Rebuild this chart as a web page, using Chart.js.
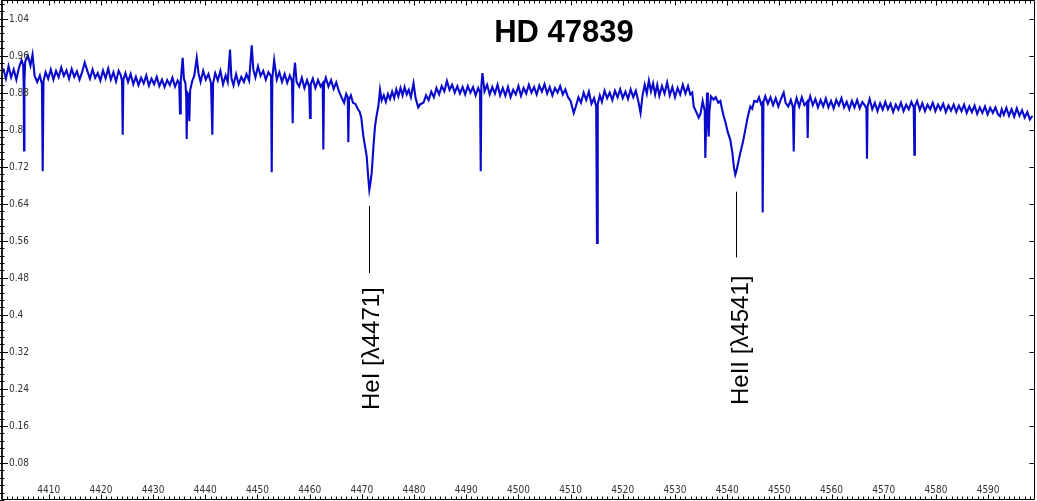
<!DOCTYPE html>
<html><head><meta charset="utf-8">
<script src="https://cdn.jsdelivr.net/npm/chart.js@4.4.1/dist/chart.umd.min.js"></script>
<style>html,body{margin:0;padding:0;background:#fff;overflow:hidden}#wrap{width:1037px;height:501px}</style>
</head><body><div id="wrap"><canvas id="c" width="1037" height="501"></canvas></div>
<script>
const titleText = 'HD 47839';
const xTicks = [4410,4420,4430,4440,4450,4460,4470,4480,4490,4500,4510,4520,4530,4540,4550,4560,4570,4580,4590];
const yTicks = [0.08,0.16,0.24,0.32,0.4,0.48,0.56,0.64,0.72,0.8,0.88,0.96,1.04];
const xRange = [4401.24, 4598.6];
const yRange = [0, 1.08];
const xMinorStep = 1;
const yMinorStep = 0.016;

const lineLabels = ['HeI [\u03BB4471]', 'HeII [\u03BB4541]'];
const lineWavelengths = [4471.4, 4541.6];
const lineMarkTop = [0.635, 0.666];
const lineMarkBottom = [0.490, 0.524];
const lineLabelCenter = [0.327, 0.345];
const lineLabelWavelength = [4473.3, 4543.9];

const wavelength = [
4401.3,4401.8,4402.3,4402.8,4403.3,4403.8,4404.3,4404.8,4405.1,4405.2,
4405.27,4405.35,4405.5,4406.0,4406.5,4406.9,4407.3,4407.8,4408.3,4408.7,
4408.85,4409.0,4409.4,4409.9,4410.4,4410.9,4411.4,4411.9,4412.4,4412.9,
4413.4,4413.9,4414.4,4414.9,4415.4,4415.9,4416.4,4416.9,4417.4,4417.9,
4418.4,4418.9,4419.4,4419.9,4420.4,4420.9,4421.4,4421.9,4422.4,4422.9,
4423.4,4423.8,4424.05,4424.18,4424.3,4424.7,4425.2,4425.7,4426.2,4426.7,
4427.2,4427.7,4428.2,4428.7,4429.2,4429.7,4430.2,4430.7,4431.2,4431.7,
4432.2,4432.7,4433.2,4433.7,4434.2,4434.7,4435.0,4435.16,4435.3,4435.67,
4435.9,4436.2,4436.35,4436.44,4436.55,4436.8,4436.94,4437.1,4437.5,4437.9,
4438.36,4438.7,4439.1,4439.6,4440.1,4440.6,4441.1,4441.35,4441.5,4441.9,
4442.4,4442.9,4443.4,4443.9,4444.3,4444.74,4445.0,4445.4,4445.9,4446.4,
4446.9,4447.4,4447.9,4448.4,4448.9,4449.2,4449.6,4450.1,4450.6,4451.1,
4451.6,4452.1,4452.6,4452.73,4452.85,4453.2,4453.7,4454.2,4454.7,4455.2,
4455.7,4456.2,4456.6,4456.75,4456.9,4457.19,4457.5,4458.0,4458.5,4459.0,
4459.5,4459.9,4460.07,4460.2,4460.6,4461.1,4461.6,4462.1,4462.5,4462.62,
4462.75,4463.1,4463.6,4464.1,4464.6,4465.1,4465.6,4466.1,4466.6,4467.0,
4467.3,4467.41,4467.55,4467.9,4468.3,4468.8,4469.2,4469.6,4469.9,4470.28,
4470.6,4470.93,4471.2,4471.43,4471.65,4471.89,4472.2,4472.52,4472.85,4473.16,
4473.48,4473.8,4474.2,4474.6,4475.0,4475.4,4475.8,4476.2,4476.6,4477.0,
4477.4,4477.8,4478.2,4478.6,4479.0,4479.4,4479.9,4480.3,4480.8,4481.2,
4481.8,4482.3,4482.8,4483.3,4483.8,4484.3,4484.8,4485.3,4485.8,4486.3,
4486.8,4487.3,4487.8,4488.3,4488.8,4489.3,4489.8,4490.3,4490.8,4491.3,
4491.8,4492.3,4492.65,4492.78,4492.9,4493.1,4493.5,4494.0,4494.5,4495.0,
4495.5,4496.0,4496.5,4497.0,4497.5,4498.0,4498.5,4499.0,4499.5,4500.0,
4500.5,4501.0,4501.5,4502.0,4502.5,4503.0,4503.5,4504.0,4504.5,4505.0,
4505.5,4506.0,4506.5,4507.0,4507.5,4508.0,4508.5,4509.0,4509.5,4510.0,
4510.6,4511.0,4511.5,4512.0,4512.5,4513.0,4513.5,4514.0,4514.5,4514.9,
4515.06,4515.2,4515.6,4516.0,4516.5,4517.0,4517.5,4518.0,4518.5,4519.0,
4519.5,4520.0,4520.5,4521.0,4521.5,4522.0,4522.5,4523.0,4523.4,4523.8,
4524.2,4524.6,4525.0,4525.4,4525.8,4526.2,4526.6,4527.0,4527.5,4528.0,
4528.5,4529.0,4529.5,4530.0,4530.5,4531.0,4531.5,4532.0,4532.5,4532.94,
4533.3,4533.59,4534.0,4534.55,4534.9,4535.3,4535.7,4535.81,4535.95,4536.14,
4536.3,4536.46,4536.6,4536.9,4537.4,4537.8,4538.3,4538.7,4539.0,4539.33,
4539.7,4540.1,4540.6,4541.0,4541.3,4541.56,4541.8,4542.1,4542.52,4543.0,
4543.48,4543.9,4544.43,4544.8,4545.2,4545.72,4546.1,4546.5,4546.7,4546.81,
4546.95,4547.3,4547.8,4548.3,4548.8,4549.3,4549.8,4550.3,4550.83,4551.2,
4551.7,4552.2,4552.6,4552.75,4552.9,4553.3,4553.8,4554.3,4554.8,4555.3,
4555.43,4555.56,4555.9,4556.4,4556.9,4557.4,4557.9,4558.4,4558.9,4559.4,
4559.9,4560.4,4560.9,4561.4,4561.9,4562.4,4562.9,4563.4,4563.9,4564.4,
4564.9,4565.4,4565.9,4566.4,4566.68,4566.79,4566.9,4567.3,4567.8,4568.3,
4568.8,4569.3,4569.8,4570.3,4570.8,4571.3,4571.8,4572.3,4572.8,4573.3,
4573.8,4574.3,4574.8,4575.3,4575.75,4575.86,4575.97,4576.4,4576.9,4577.4,
4577.9,4578.4,4578.9,4579.4,4579.9,4580.4,4580.9,4581.4,4581.9,4582.4,
4582.9,4583.4,4583.9,4584.4,4584.9,4585.4,4585.9,4586.4,4586.9,4587.4,
4587.9,4588.4,4588.9,4589.4,4589.9,4590.4,4590.9,4591.4,4591.9,4592.28,
4592.6,4593.0,4593.5,4594.0,4594.5,4595.0,4595.5,4596.0,4596.5,4597.0,
4597.5,4598.0,4598.5
];

const flux = [
0.932,0.910,0.937,0.913,0.930,0.908,0.934,0.950,0.940,0.900,
0.755,0.905,0.947,0.960,0.938,0.962,0.916,0.903,0.917,0.898,
0.710,0.905,0.924,0.910,0.930,0.908,0.927,0.913,0.934,0.916,
0.928,0.910,0.931,0.914,0.926,0.908,0.924,0.945,0.927,0.910,
0.930,0.912,0.922,0.906,0.928,0.911,0.932,0.908,0.924,0.904,
0.927,0.918,0.905,0.789,0.908,0.922,0.903,0.920,0.898,0.914,
0.896,0.912,0.900,0.917,0.895,0.910,0.898,0.914,0.894,0.908,
0.892,0.907,0.896,0.912,0.893,0.906,0.900,0.835,0.905,0.955,
0.910,0.900,0.870,0.780,0.880,0.875,0.818,0.885,0.905,0.917,
0.955,0.922,0.903,0.927,0.908,0.920,0.900,0.789,0.900,0.922,
0.906,0.927,0.898,0.917,0.903,0.973,0.912,0.896,0.920,0.898,
0.914,0.903,0.920,0.906,0.982,0.930,0.913,0.937,0.916,0.927,
0.908,0.924,0.915,0.708,0.912,0.950,0.908,0.924,0.903,0.920,
0.901,0.917,0.905,0.814,0.910,0.945,0.903,0.893,0.912,0.890,
0.907,0.893,0.825,0.898,0.910,0.890,0.907,0.893,0.900,0.757,
0.898,0.912,0.893,0.907,0.888,0.902,0.883,0.870,0.858,0.877,
0.870,0.773,0.865,0.874,0.858,0.855,0.845,0.838,0.825,0.786,
0.765,0.742,0.700,0.670,0.685,0.707,0.760,0.807,0.832,0.850,
0.886,0.863,0.874,0.860,0.877,0.866,0.882,0.868,0.887,0.872,
0.890,0.874,0.892,0.876,0.886,0.870,0.900,0.868,0.848,0.855,
0.858,0.874,0.864,0.882,0.870,0.890,0.876,0.894,0.883,0.905,
0.886,0.897,0.880,0.894,0.878,0.892,0.876,0.894,0.880,0.892,
0.874,0.890,0.880,0.710,0.895,0.922,0.883,0.897,0.876,0.892,
0.878,0.897,0.874,0.890,0.873,0.892,0.870,0.886,0.876,0.894,
0.873,0.890,0.878,0.897,0.880,0.892,0.876,0.895,0.882,0.898,
0.878,0.892,0.874,0.890,0.880,0.894,0.876,0.887,0.870,0.862,
0.836,0.850,0.870,0.858,0.880,0.864,0.882,0.856,0.868,0.850,
0.555,0.855,0.874,0.860,0.884,0.868,0.880,0.864,0.884,0.870,
0.887,0.868,0.882,0.866,0.887,0.870,0.884,0.860,0.836,0.875,
0.897,0.878,0.906,0.883,0.900,0.876,0.897,0.873,0.894,0.878,
0.902,0.874,0.892,0.870,0.890,0.876,0.897,0.878,0.894,0.876,
0.880,0.850,0.840,0.826,0.835,0.862,0.840,0.739,0.800,0.880,
0.820,0.785,0.840,0.872,0.865,0.870,0.858,0.862,0.845,0.829,
0.815,0.795,0.778,0.750,0.718,0.703,0.712,0.728,0.750,0.772,
0.800,0.825,0.850,0.845,0.862,0.860,0.870,0.855,0.858,0.621,
0.860,0.872,0.856,0.870,0.853,0.868,0.850,0.866,0.880,0.858,
0.850,0.864,0.848,0.753,0.850,0.868,0.850,0.870,0.853,0.860,
0.782,0.858,0.872,0.853,0.866,0.848,0.864,0.850,0.867,0.848,
0.862,0.846,0.864,0.852,0.868,0.848,0.860,0.844,0.862,0.848,
0.864,0.846,0.860,0.852,0.845,0.737,0.850,0.866,0.844,0.858,
0.840,0.857,0.843,0.860,0.844,0.856,0.838,0.854,0.843,0.858,
0.840,0.854,0.844,0.860,0.848,0.746,0.850,0.862,0.843,0.857,
0.840,0.854,0.844,0.858,0.840,0.854,0.843,0.856,0.838,0.852,
0.841,0.854,0.838,0.852,0.840,0.854,0.836,0.850,0.838,0.852,
0.834,0.848,0.836,0.850,0.833,0.847,0.836,0.848,0.833,0.829,
0.844,0.832,0.847,0.830,0.844,0.828,0.846,0.830,0.842,0.826,
0.838,0.822,0.830
];

const tickFont = '10px "DejaVu Sans Condensed", "DejaVu Sans", sans-serif';
const tickColor = '#333';

const framePlugin = {
  id: 'frame',
  afterDraw(chart) {
    const {ctx, chartArea: a, scales: {x, y}} = chart;
    ctx.save();
    ctx.strokeStyle = '#000';
    ctx.lineWidth = 1;
    const L = a.left - 1, R = a.right + 1.5, T = 0.5, B = a.bottom - 0.5;
    ctx.beginPath();
    ctx.moveTo(L, T); ctx.lineTo(R, T); ctx.lineTo(R, B); ctx.lineTo(L, B); ctx.closePath();
    ctx.stroke();
    ctx.lineWidth = 1.5;
    ctx.beginPath(); ctx.moveTo(L, 0); ctx.lineTo(L, B); ctx.stroke();
    ctx.lineWidth = 1;
    ctx.beginPath();
    for (let v = yRange[0]; v <= yRange[1] + 1e-9; v += yMinorStep) {
      const py = Math.round(y.getPixelForValue(v)) + 0.5;
      ctx.moveTo(0, py); ctx.lineTo(L + 2.5, py);
    }
    yTicks.forEach(v => {
      const py = Math.round(y.getPixelForValue(v)) + 0.5;
      ctx.moveTo(0, py); ctx.lineTo(L + 6, py);
      ctx.moveTo(R, py); ctx.lineTo(R - 5, py);
    });
    for (let v = Math.ceil(xRange[0]); v <= xRange[1]; v += xMinorStep) {
      const px = Math.round(x.getPixelForValue(v)) + 0.5;
      ctx.moveTo(px, B); ctx.lineTo(px, B - 3);
      ctx.moveTo(px, T); ctx.lineTo(px, T + 3);
    }
    xTicks.forEach(v => {
      const px = Math.round(x.getPixelForValue(v)) + 0.5;
      ctx.moveTo(px, B); ctx.lineTo(px, B - 5);
      ctx.moveTo(px, T); ctx.lineTo(px, T + 5);
    });
    ctx.stroke();

    ctx.fillStyle = tickColor;
    ctx.font = tickFont;
    ctx.textAlign = 'left';
    ctx.textBaseline = 'middle';
    yTicks.forEach(v => {
      ctx.fillText(String(+v.toFixed(2)), L + 7, y.getPixelForValue(v) + 0.5);
    });
    ctx.textAlign = 'center';
    xTicks.forEach(v => {
      ctx.fillText(String(v), x.getPixelForValue(v), B - 9);
    });

    ctx.fillStyle = '#000';
    ctx.font = 'bold 31px "Liberation Sans", Arial, sans-serif';
    ctx.textAlign = 'center';
    ctx.textBaseline = 'alphabetic';
    ctx.fillText(titleText, 564, 42);

    ctx.strokeStyle = '#000';
    ctx.lineWidth = 1;
    lineLabels.forEach((lab, i) => {
      const px = Math.round(x.getPixelForValue(lineWavelengths[i])) + 0.5;
      ctx.beginPath();
      ctx.moveTo(px, y.getPixelForValue(lineMarkTop[i]));
      ctx.lineTo(px, y.getPixelForValue(lineMarkBottom[i]));
      ctx.stroke();
      ctx.save();
      ctx.translate(x.getPixelForValue(lineLabelWavelength[i]), y.getPixelForValue(lineLabelCenter[i]));
      ctx.rotate(-Math.PI / 2);
      ctx.font = '24px "Liberation Sans", Arial, sans-serif';
      ctx.textAlign = 'center';
      ctx.textBaseline = 'alphabetic';
      ctx.fillText(lab, 0, 0);
      ctx.restore();
    });
    ctx.restore();
  }
};

new Chart(document.getElementById('c'), {
  type: 'line',
  data: {
    datasets: [{
      data: wavelength.map((w, i) => ({x: w, y: flux[i]})),
      borderColor: '#0a0acc',
      borderWidth: 2.1,
      pointRadius: 0,
      tension: 0,
      fill: false
    }]
  },
  options: {
    responsive: false,
    animation: false,
    layout: {padding: {left: 3, right: 4, top: 0, bottom: 1}},
    scales: {
      x: {type: 'linear', min: xRange[0], max: xRange[1], display: false},
      y: {type: 'linear', min: yRange[0], max: yRange[1], display: false}
    },
    plugins: {legend: {display: false}, tooltip: {enabled: false}, title: {display: false}}
  },
  plugins: [framePlugin]
});
</script>
</body></html>
